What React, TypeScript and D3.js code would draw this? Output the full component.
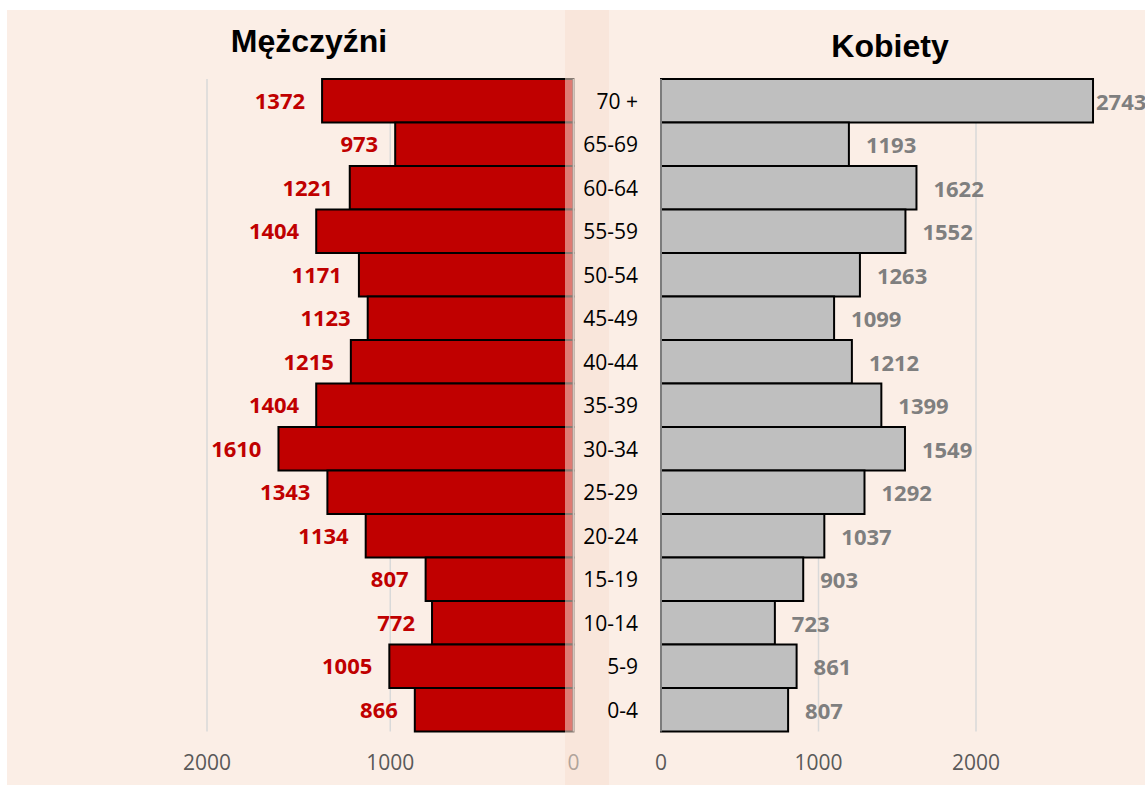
import React from "react";
import * as d3 from "d3";

const categories = ["70 +", "65-69", "60-64", "55-59", "50-54", "45-49", "40-44", "35-39", "30-34", "25-29", "20-24", "15-19", "10-14", "5-9", "0-4"];
const men = [1372, 973, 1221, 1404, 1171, 1123, 1215, 1404, 1610, 1343, 1134, 807, 772, 1005, 866];
const women = [2743, 1193, 1622, 1552, 1263, 1099, 1212, 1399, 1549, 1292, 1037, 903, 723, 861, 807];
const ticks = [0, 1000, 2000];
const titleMen = "Mężczyźni";
const titleWomen = "Kobiety";

const W = 1145;
const H = 785;
const BG = "#FBEEE6";
const OVER = "#F8E0D2";
const FONT = "'Open Sans', 'Noto Sans', sans-serif";

export default function App() {
  const y = d3.scaleBand<string>().domain(categories).range([79, 731.5]).padding(0);
  const xL = d3.scaleLinear().domain([0, 2000]).range([573.5, 207]);
  const xR = d3.scaleLinear().domain([0, 2000]).range([661, 976]);
  const top = y.range()[0];
  const bottom = y.range()[1];
  const labelY = (c: string) => (y(c) as number) + y.bandwidth() / 2 + 8;
  const rightLabelX = (v: number) => {
    const x = xR(v) + 17;
    return x + 50 > W ? xR(v) + 3 : x;
  };

  return (
    <svg width={W} height={H} style={{ position: "absolute", left: 0, top: 0 }}>
      <rect x={0} y={0} width={W} height={H} fill="#fff" />
      {/* Left chart */}
      <g>
        <rect x={7} y={10} width={602} height={H - 10} fill={BG} />
        {ticks.filter((t) => t > 0).map((t) => (
          <line key={t} x1={xL(t)} x2={xL(t)} y1={top} y2={bottom} stroke="#D9D9D9" strokeWidth={1.5} />
        ))}
        {categories.map((c, i) => (
          <rect key={c} x={xL(men[i])} y={y(c)} width={xL(0) - xL(men[i])} height={y.bandwidth()} fill="#C00000" stroke="#000" strokeWidth={2} />
        ))}
        <line x1={xL(0)} x2={xL(0)} y1={top} y2={bottom} stroke="#A6A6A6" strokeWidth={1.5} />
        {categories.map((c, i) => (
          <text key={c} x={xL(men[i]) - 17} y={labelY(c)} textAnchor="end" fontFamily={FONT} fontWeight={700} fontSize={22} fill="#C00000">{men[i]}</text>
        ))}
        {ticks.map((t) => (
          <text key={t} x={xL(t)} y={770} textAnchor="middle" fontFamily={FONT} fontSize={21} fill="#595959">{t}</text>
        ))}
        <text x={309} y={52} textAnchor="middle" fontFamily="'Liberation Sans', Arial, sans-serif" fontWeight={700} fontSize={32} fill="#000">{titleMen}</text>
      </g>
      {/* Right chart */}
      <g>
        <rect x={565} y={10} width={W - 565} height={H - 10} fill={OVER} fillOpacity={0.55} />
        {ticks.filter((t) => t > 0).map((t) => (
          <line key={t} x1={xR(t)} x2={xR(t)} y1={top} y2={bottom} stroke="#D9D9D9" strokeWidth={1.5} />
        ))}
        {categories.map((c, i) => (
          <rect key={c} x={xR(0)} y={y(c)} width={xR(women[i]) - xR(0)} height={y.bandwidth()} fill="#BFBFBF" stroke="#000" strokeWidth={2} />
        ))}
        <line x1={xR(0)} x2={xR(0)} y1={top} y2={bottom} stroke="#A6A6A6" strokeWidth={1.5} />
        {categories.map((c, i) => (
          <text key={c} x={rightLabelX(women[i])} y={labelY(c) + 1} textAnchor="start" fontFamily={FONT} fontWeight={700} fontSize={22} fill="#7F7F7F">{women[i]}</text>
        ))}
        {categories.map((c) => (
          <text key={c} x={638} y={labelY(c)} textAnchor="end" fontFamily={FONT} fontSize={21} fill="#000">{c}</text>
        ))}
        {ticks.map((t) => (
          <text key={t} x={xR(t)} y={770} textAnchor="middle" fontFamily={FONT} fontSize={21} fill="#595959">{t}</text>
        ))}
        <text x={890} y={57} textAnchor="middle" fontFamily="'Liberation Sans', Arial, sans-serif" fontWeight={700} fontSize={32} fill="#000">{titleWomen}</text>
      </g>
    </svg>
  );
}
